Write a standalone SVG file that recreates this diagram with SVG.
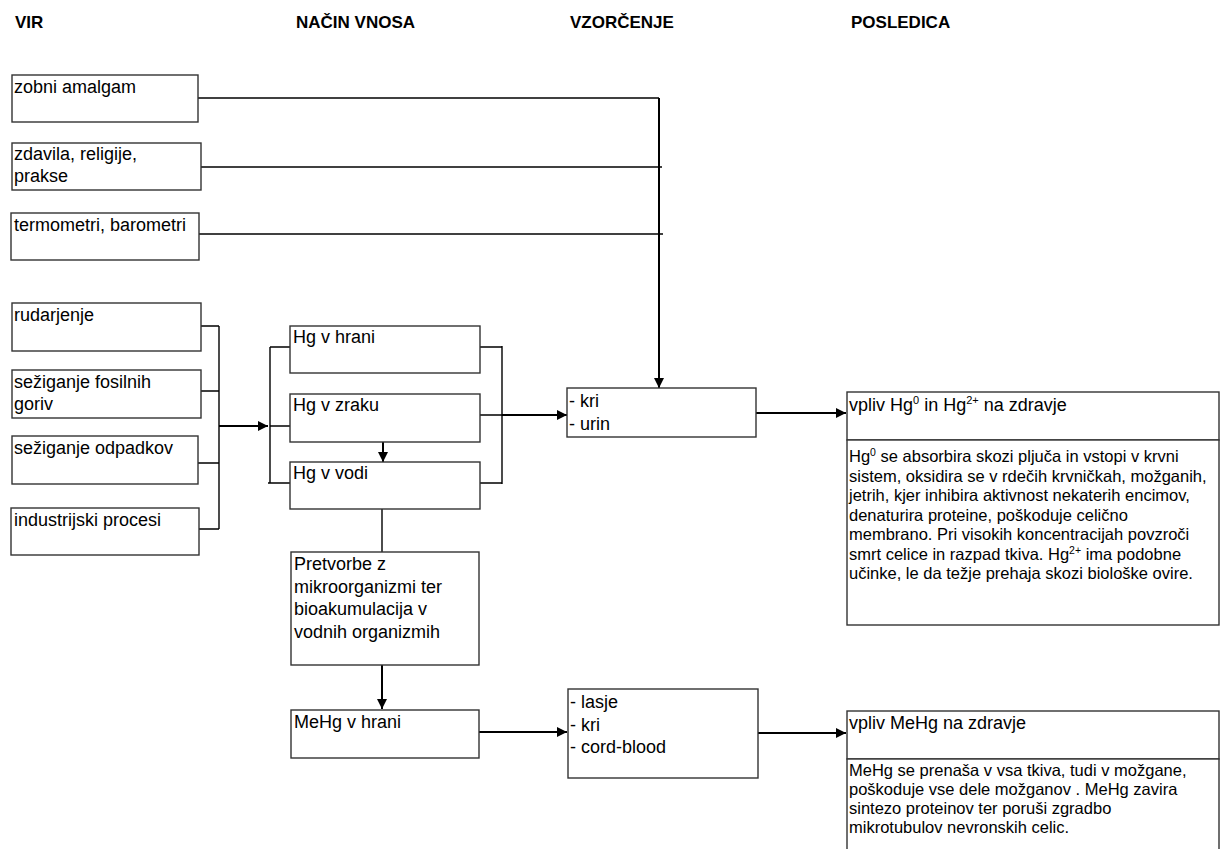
<svg xmlns="http://www.w3.org/2000/svg" width="1221" height="849" viewBox="0 0 1221 849">
<style>
.box{fill:#fff;stroke:#333;stroke-width:1.4}
.t{font-family:"Liberation Sans",Arial,sans-serif;font-size:18px;fill:#000}
.d{font-family:"Liberation Sans",Arial,sans-serif;font-size:16.5px;fill:#000}
.h{font-family:"Liberation Sans",Arial,sans-serif;font-size:17px;font-weight:bold;fill:#000}
.c{fill:none;stroke:#000;stroke-width:1.4}
.a{fill:none;stroke:#000;stroke-width:2;marker-end:url(#ah)}
</style>
<defs>
<marker id="ah" viewBox="0 0 10 10" refX="10" refY="5" markerWidth="12" markerHeight="10" markerUnits="userSpaceOnUse" orient="auto">
<path d="M0,0 L10,5 L0,10 z" fill="#000"/>
</marker>
</defs>
<rect width="1221" height="849" fill="#fff"/>
<g id="headers">
<text class="h" x="15" y="28">VIR</text>
<text class="h" x="296" y="28">NAČIN VNOSA</text>
<text class="h" x="570" y="28">VZORČENJE</text>
<text class="h" x="851" y="28">POSLEDICA</text>
</g>
<g id="connectors">
<path class="c" d="M198,98 H659"/>
<path class="a" d="M659,98 V388"/>
<path class="c" d="M201,167 H662"/>
<path class="c" d="M199,234 H663"/>
<path class="c" d="M199,326 H219 M199,391 H219 M196,463 H219 M199,529 H219 M219,326 V529"/>
<path class="a" d="M219,426 H268"/>
<path class="c" d="M270,347 V483 M270,347 H290 M270,426 H292 M268,483 H290"/>
<path class="a" d="M383,442 V462"/>
<path class="c" d="M480,347 H502 M480,415 H502 M480,483 H502 M502,346 V484"/>
<path class="a" d="M502,415 H567"/>
<path class="a" d="M756,413 H846"/>
<path class="c" d="M382,509 V552"/>
<path class="a" d="M382,665 V709"/>
<path class="a" d="M479,732 H567"/>
<path class="a" d="M758,733 H846"/>
</g>
<g id="zobni">
<rect class="box" x="12" y="75" width="186" height="47"/>
<text class="t" x="14" y="93">zobni amalgam</text>
</g>
<g id="zdavila">
<rect class="box" x="12" y="143" width="189" height="47"/>
<text class="t" x="14" y="160">zdavila, religije,</text>
<text class="t" x="14" y="182">prakse</text>
</g>
<g id="termometri">
<rect class="box" x="11" y="213" width="188" height="47"/>
<text class="t" x="14" y="231">termometri, barometri</text>
</g>
<g id="rudarjenje">
<rect class="box" x="12" y="303" width="189" height="48"/>
<text class="t" x="14" y="321">rudarjenje</text>
</g>
<g id="fosilna">
<rect class="box" x="12" y="370" width="189" height="48"/>
<text class="t" x="14" y="388">sežiganje fosilnih</text>
<text class="t" x="14" y="410">goriv</text>
</g>
<g id="odpadki">
<rect class="box" x="12" y="436" width="186" height="48"/>
<text class="t" x="14" y="454">sežiganje odpadkov</text>
</g>
<g id="industrija">
<rect class="box" x="11" y="508" width="188" height="47"/>
<text class="t" x="14" y="526">industrijski procesi</text>
</g>
<g id="hg-hrana">
<rect class="box" x="290" y="326" width="190" height="47"/>
<text class="t" x="293" y="343">Hg v hrani</text>
</g>
<g id="hg-zrak">
<rect class="box" x="290" y="394" width="190" height="48"/>
<text class="t" x="293" y="411">Hg v zraku</text>
</g>
<g id="hg-voda">
<rect class="box" x="290" y="462" width="190" height="47"/>
<text class="t" x="293" y="479">Hg v vodi</text>
</g>
<g id="pretvorbe">
<rect class="box" x="291" y="552" width="188" height="113"/>
<text class="t" x="294" y="570">Pretvorbe z</text>
<text class="t" x="294" y="592.5">mikroorganizmi ter</text>
<text class="t" x="294" y="615">bioakumulacija v</text>
<text class="t" x="294" y="637.5">vodnih organizmih</text>
</g>
<g id="mehg-hrana">
<rect class="box" x="291" y="710" width="188" height="48"/>
<text class="t" x="294" y="728">MeHg v hrani</text>
</g>
<g id="vzorec-hg">
<rect class="box" x="567" y="388" width="189" height="49"/>
<text class="t" x="569" y="407">- kri</text>
<text class="t" x="569" y="430">- urin</text>
</g>
<g id="vzorec-mehg">
<rect class="box" x="568" y="689" width="190" height="89"/>
<text class="t" x="570" y="708">- lasje</text>
<text class="t" x="570" y="730.5">- kri</text>
<text class="t" x="570" y="753">- cord-blood</text>
</g>
<g id="vpliv-hg">
<rect class="box" x="847" y="392" width="372" height="48"/>
<text class="t" x="849" y="411">vpliv Hg<tspan font-size="11" dy="-7">0</tspan><tspan dy="7"> in Hg</tspan><tspan font-size="11" dy="-7">2+</tspan><tspan dy="7"> na zdravje</tspan></text>
</g>
<g id="opis-hg">
<rect class="box" x="847" y="440" width="372" height="185"/>
<text class="d" x="849" y="462">Hg<tspan font-size="10.5" dy="-6">0</tspan><tspan dy="6"> se absorbira skozi pljuča in vstopi v krvni</tspan></text>
<text class="d" x="849" y="481.5">sistem, oksidira se v rdečih krvničkah, možganih,</text>
<text class="d" x="849" y="501">jetrih, kjer inhibira aktivnost nekaterih encimov,</text>
<text class="d" x="849" y="520.5">denaturira proteine, poškoduje celično</text>
<text class="d" x="849" y="540">membrano. Pri visokih koncentracijah povzroči</text>
<text class="d" x="849" y="560">smrt celice in razpad tkiva. Hg<tspan font-size="10.5" dy="-6">2+</tspan><tspan dy="6"> ima podobne</tspan></text>
<text class="d" x="849" y="579">učinke, le da težje prehaja skozi biološke ovire.</text>
</g>
<g id="vpliv-mehg">
<rect class="box" x="847" y="711" width="372" height="48"/>
<text class="t" x="849" y="729">vpliv MeHg na zdravje</text>
</g>
<g id="opis-mehg">
<rect class="box" x="847" y="759" width="372" height="120"/>
<text class="d" x="849" y="776">MeHg se prenaša v vsa tkiva, tudi v možgane,</text>
<text class="d" x="849" y="795">poškoduje vse dele možganov . MeHg zavira</text>
<text class="d" x="849" y="814">sintezo proteinov ter poruši zgradbo</text>
<text class="d" x="849" y="833">mikrotubulov nevronskih celic.</text>
</g>
</svg>
